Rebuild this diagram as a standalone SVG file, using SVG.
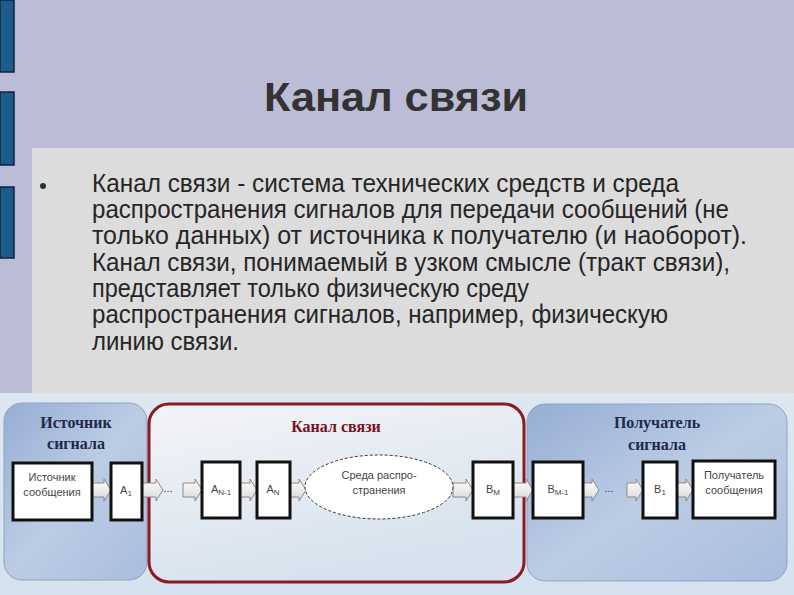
<svg xmlns="http://www.w3.org/2000/svg" width="794" height="595" viewBox="0 0 794 595">
<style>
.body{font-family:"Liberation Sans",Arial,sans-serif;font-size:25px;fill:#262626}
.hdr{font-family:"Liberation Serif","Times New Roman",serif;font-size:16px;font-weight:bold;text-anchor:middle}
.box{fill:#ffffff;stroke:#111;stroke-width:3}
.lbl{font-family:"Liberation Sans",Arial,sans-serif;font-size:11px;fill:#444;text-anchor:middle}
.arr{fill:url(#ga);stroke:#8a8a8a;stroke-width:1}
.bar{fill:#1F5A8C;stroke:#0E2440;stroke-width:1.5}
</style>
<defs>
<linearGradient id="gbg" x1="0" y1="0" x2="0" y2="1">
<stop offset="0" stop-color="#DDE7F1"/><stop offset="1" stop-color="#D4E3EF"/>
</linearGradient>
<linearGradient id="gblue" x1="0" y1="0" x2="1" y2="1">
<stop offset="0" stop-color="#96AED4"/><stop offset="0.5" stop-color="#BCCCE4"/><stop offset="1" stop-color="#A9BDDD"/>
</linearGradient>
<linearGradient id="gmid" x1="0" y1="0" x2="0.4" y2="1">
<stop offset="0" stop-color="#F4F4F7"/><stop offset="1" stop-color="#D6E2EE"/>
</linearGradient>
<linearGradient id="ga" x1="0" y1="0" x2="0" y2="1">
<stop offset="0" stop-color="#FFFFFF"/><stop offset="1" stop-color="#D8D8D8"/>
</linearGradient>
</defs>
<rect x="0" y="0" width="794" height="595" fill="#BBBDD6"/>
<rect x="0" y="393" width="794" height="202" fill="url(#gbg)"/>
<rect class="bar" x="0" y="0" width="14" height="72"/>
<rect class="bar" x="0" y="92" width="14" height="73"/>
<rect class="bar" x="0" y="187" width="14" height="71"/>
<rect x="32" y="148" width="762" height="245" fill="#DCDCDC"/>
<text x="396" y="111" text-anchor="middle" font-family="Liberation Sans,Arial,sans-serif" font-size="40" font-weight="bold" fill="#333333" textLength="264" lengthAdjust="spacingAndGlyphs">Канал связи</text>
<circle cx="43" cy="186" r="3" fill="#1E3A2E"/>
<g class="body">
<text x="92" y="192" textLength="587" lengthAdjust="spacingAndGlyphs">Канал связи  - система технических средств и среда</text>
<text x="92" y="218" textLength="637" lengthAdjust="spacingAndGlyphs">распространения сигналов для передачи сообщений (не</text>
<text x="92" y="244" textLength="655" lengthAdjust="spacingAndGlyphs">только данных) от источника к получателю (и наоборот).</text>
<text x="92" y="271" textLength="638" lengthAdjust="spacingAndGlyphs">Канал связи, понимаемый в узком смысле (тракт связи),</text>
<text x="92" y="297" textLength="437" lengthAdjust="spacingAndGlyphs">представляет только физическую среду</text>
<text x="92" y="323" textLength="576" lengthAdjust="spacingAndGlyphs">распространения сигналов, например, физическую</text>
<text x="92" y="350" textLength="147" lengthAdjust="spacingAndGlyphs">линию связи.</text>
</g>
<g id="source">
<rect x="4" y="403" width="143" height="177" rx="18" fill="url(#gblue)" stroke="#8FA3C4" stroke-width="1"/>
<text class="hdr" x="76" y="428" fill="#1E2A48">Источник</text>
<text class="hdr" x="76" y="449" fill="#1E2A48">сигнала</text>
</g>
<g id="channel">
<rect x="149" y="404" width="375" height="178" rx="20" fill="url(#gmid)" stroke="#8B1A22" stroke-width="3"/>
<text class="hdr" x="336" y="432" fill="#7A1020">Канал связи</text>
</g>
<g id="receiver">
<rect x="527" y="404" width="260" height="177" rx="18" fill="url(#gblue)" stroke="#8FA3C4" stroke-width="1"/>
<text class="hdr" x="657" y="428" fill="#1E2A48">Получатель</text>
<text class="hdr" x="657" y="450" fill="#1E2A48">сигнала</text>
</g>
<g id="connectors">
<path class="arr" d="M92,483 H104 V479 L111,490 L104,501 V497 H92 Z"/>
<path class="arr" d="M142,483 H156 V479 L163,490 L156,501 V497 H142 Z"/>
<text class="lbl" x="168" y="492">...</text>
<path class="arr" d="M183,483 H195 V479 L202,490 L195,501 V497 H183 Z"/>
<path class="arr" d="M240,483 H250 V479 L257,490 L250,501 V497 H240 Z"/>
<path class="arr" d="M290,483 H299 V479 L306,490 L299,501 V497 H290 Z"/>
<path class="arr" d="M453,483 H466 V479 L473,490 L466,501 V497 H453 Z"/>
<path class="arr" d="M513,483 H526 V479 L533,490 L526,501 V497 H513 Z"/>
<path class="arr" d="M583,483 H592 V479 L599,490 L592,501 V497 H583 Z"/>
<text class="lbl" x="609" y="492">...</text>
<path class="arr" d="M627,483 H636 V479 L643,490 L636,501 V497 H627 Z"/>
<path class="arr" d="M677,483 H686 V479 L693,490 L686,501 V497 H677 Z"/>
</g>
<g id="msg-source">
<rect class="box" x="13" y="463" width="79" height="57"/>
<text class="lbl" x="52" y="481">Источник</text>
<text class="lbl" x="52" y="496">сообщения</text>
</g>
<g id="A1">
<rect class="box" x="111" y="463" width="31" height="57"/>
<text class="lbl" x="126" y="494">A<tspan font-size="8" dy="2">1</tspan></text>
</g>
<g id="AN-1">
<rect class="box" x="202" y="462" width="38" height="56"/>
<text class="lbl" x="221" y="493">A<tspan font-size="8" dy="2">N-1</tspan></text>
</g>
<g id="AN">
<rect class="box" x="257" y="462" width="33" height="56"/>
<text class="lbl" x="273" y="493">A<tspan font-size="8" dy="2">N</tspan></text>
</g>
<g id="medium">
<ellipse cx="379" cy="487" rx="74" ry="32" fill="#ffffff" stroke="#333" stroke-width="1" stroke-dasharray="3,2"/>
<text class="lbl" x="379" y="479">Среда распро-</text>
<text class="lbl" x="379" y="494">странения</text>
</g>
<g id="BM">
<rect class="box" x="473" y="462" width="40" height="56"/>
<text class="lbl" x="493" y="493">B<tspan font-size="8" dy="2">M</tspan></text>
</g>
<g id="BM-1">
<rect class="box" x="533" y="462" width="50" height="56"/>
<text class="lbl" x="558" y="493">B<tspan font-size="8" dy="2">M-1</tspan></text>
</g>
<g id="B1">
<rect class="box" x="643" y="462" width="34" height="56"/>
<text class="lbl" x="660" y="493">B<tspan font-size="8" dy="2">1</tspan></text>
</g>
<g id="msg-receiver">
<rect class="box" x="693" y="461" width="82" height="57"/>
<text class="lbl" x="734" y="479">Получатель</text>
<text class="lbl" x="734" y="494">сообщения</text>
</g>
</svg>
